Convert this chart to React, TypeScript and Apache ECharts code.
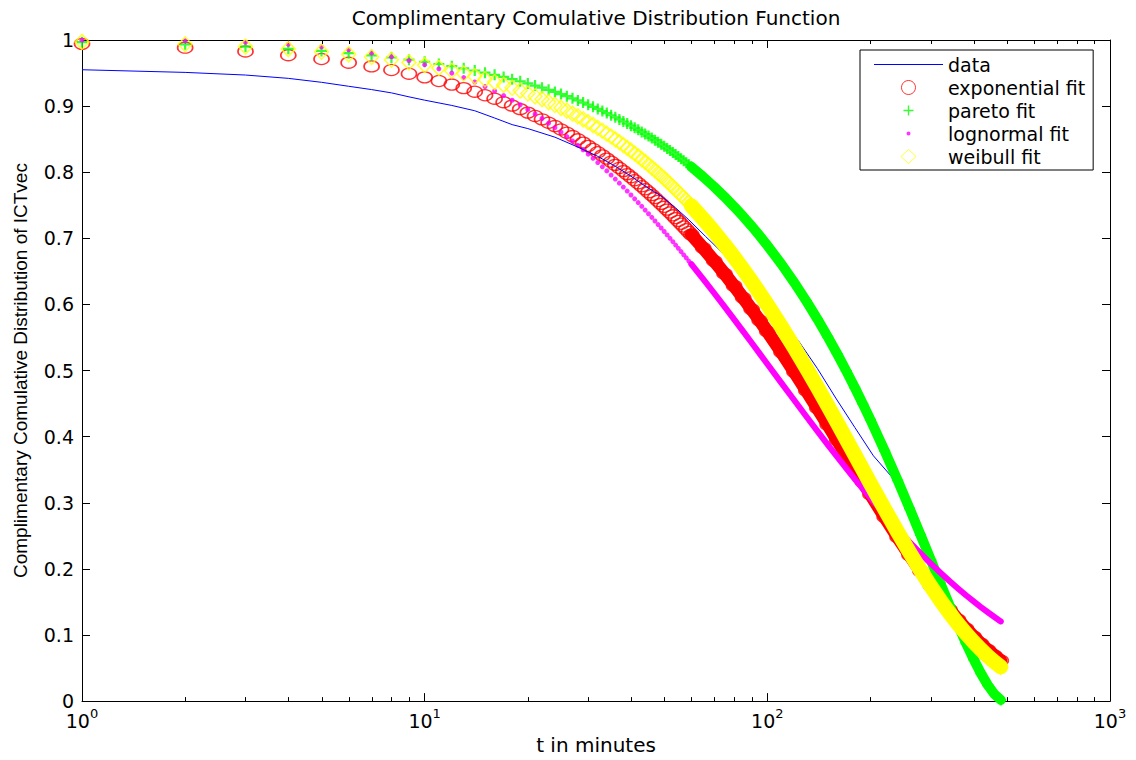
import React, { useEffect, useRef } from "react";
import * as echarts from "echarts";

// ---------- data ----------
const TITLE = "Complimentary Comulative Distribution Function";
const X_NAME = "t in minutes";
const Y_NAME = "Complimentary Comulative Distribution of ICTvec";

const X_TICK_EXP = ["0", "1", "2", "3"];
const Y_TICK_LABELS = ["0", "0.1", "0.2", "0.3", "0.4", "0.5", "0.6", "0.7", "0.8", "0.9", "1"];
const MINOR_TICKS = [2, 3, 4, 5, 6, 7, 8, 9, 20, 30, 40, 50, 60, 70, 80, 90, 200, 300, 400, 500, 600, 700, 800, 900];

const SERIES_NAMES = ["data", "exponential fit", "pareto fit", "lognormal fit", "weibull fit"];

// empirical CCDF (blue line)
const DATA_T = [1, 2, 3, 4, 5, 6, 7, 8, 9, 10, 12, 14, 16, 18, 20, 24, 28, 32, 36, 40, 44, 49, 54, 59, 66, 74, 85, 100, 112, 124, 140, 159, 180, 204, 230, 260, 300, 340, 380, 420, 450, 478];
const DATA_V = [0.955, 0.951, 0.947, 0.942, 0.936, 0.93, 0.925, 0.92, 0.914, 0.909, 0.901, 0.893, 0.882, 0.872, 0.866, 0.853, 0.838, 0.824, 0.809, 0.794, 0.779, 0.764, 0.746, 0.728, 0.703, 0.678, 0.643, 0.6, 0.572, 0.543, 0.503, 0.457, 0.414, 0.371, 0.34, 0.288, 0.215, 0.15, 0.095, 0.045, 0.022, 0.002];

// t values at which the fits are drawn
const FIT_T = [
  1, 2, 3, 4, 5, 6, 7, 8, 9, 10, 11, 12, 13, 14, 15, 16, 17, 18, 19, 20,
  21, 22, 23, 24, 25, 26, 27, 28, 29, 30, 31, 32, 33, 34, 35, 36, 37, 38, 39, 40,
  41, 42, 43, 44, 45, 46, 47, 48, 49, 50, 51, 52, 53, 54, 55, 56, 57, 58, 59, 60,
  65, 70, 75, 80, 85, 90, 95, 100,
  110, 120, 130, 140, 150, 160, 170, 180, 190, 200,
  220, 240, 260, 280, 300, 320, 340, 360, 380, 400, 420, 440, 460, 480,
];

const EXP_V = [
  0.9942, 0.9884, 0.9827, 0.977, 0.9713, 0.9657, 0.9601, 0.9546, 0.949, 0.9435, 0.938, 0.9326, 0.9272, 0.9218, 0.9164, 0.9112, 0.9059, 0.9007, 0.8954, 0.8902,
  0.8851, 0.88, 0.8748, 0.8698, 0.8647, 0.8597, 0.8547, 0.8498, 0.8448, 0.8399, 0.8351, 0.8302, 0.8254, 0.8206, 0.8159, 0.8111, 0.8064, 0.8017, 0.7971, 0.7925,
  0.7879, 0.7833, 0.7788, 0.7742, 0.7698, 0.7653, 0.7609, 0.7565, 0.7521, 0.7477, 0.7434, 0.7391, 0.7348, 0.7305, 0.7263, 0.7221, 0.7179, 0.7137, 0.7096, 0.7055,
  0.6853, 0.6656, 0.6465, 0.628, 0.61, 0.5926, 0.5756, 0.5591,
  0.5275, 0.4977, 0.4696, 0.4431, 0.4181, 0.3945, 0.3722, 0.3512, 0.3313, 0.3126,
  0.2783, 0.2478, 0.2206, 0.1964, 0.1748, 0.1556, 0.1385, 0.1233, 0.1098, 0.0977, 0.087, 0.0774, 0.069, 0.0614,
];

const PARETO_V = [
  0.9967, 0.9934, 0.99, 0.9867, 0.9834, 0.9801, 0.9768, 0.9735, 0.9702, 0.967, 0.9637, 0.9604, 0.9571, 0.9539, 0.9506, 0.9473, 0.9441, 0.9408, 0.9376, 0.9343,
  0.9311, 0.9279, 0.9246, 0.9214, 0.9182, 0.915, 0.9118, 0.9086, 0.9054, 0.9021, 0.8989, 0.8958, 0.8926, 0.8894, 0.8862, 0.8831, 0.8799, 0.8767, 0.8736, 0.8704,
  0.8672, 0.8641, 0.861, 0.8578, 0.8547, 0.8516, 0.8484, 0.8453, 0.8422, 0.8391, 0.836, 0.8329, 0.8298, 0.8267, 0.8236, 0.8205, 0.8174, 0.8144, 0.8113, 0.8082,
  0.793, 0.7778, 0.7628, 0.7479, 0.7331, 0.7184, 0.7038, 0.6893,
  0.6608, 0.6326, 0.605, 0.5779, 0.5512, 0.525, 0.4993, 0.4742, 0.4495, 0.4253,
  0.3785, 0.3339, 0.2915, 0.2513, 0.2135, 0.1781, 0.1452, 0.115, 0.0876, 0.0632, 0.0419, 0.0242, 0.0105, 0.0018,
];

const LOGN_V = [
  0.9998, 0.9987, 0.9966, 0.9935, 0.9896, 0.9851, 0.9801, 0.9746, 0.9688, 0.9627, 0.9564, 0.9499, 0.9432, 0.9365, 0.9296, 0.9228, 0.9159, 0.9089, 0.902, 0.895,
  0.8881, 0.8812, 0.8743, 0.8674, 0.8607, 0.8539, 0.8472, 0.8406, 0.834, 0.8274, 0.821, 0.8146, 0.8082, 0.802, 0.7957, 0.7896, 0.7835, 0.7775, 0.7715, 0.7656,
  0.7597, 0.754, 0.7484, 0.7427, 0.7372, 0.7317, 0.7262, 0.7208, 0.7156, 0.7103, 0.7051, 0.7, 0.6949, 0.6898, 0.6849, 0.68, 0.6751, 0.6704, 0.6656, 0.6609,
  0.6383, 0.6169, 0.5966, 0.5775, 0.5593, 0.542, 0.5256, 0.51,
  0.481, 0.4546, 0.4305, 0.4084, 0.388, 0.3693, 0.352, 0.3359, 0.321, 0.3071,
  0.282, 0.26, 0.2406, 0.2234, 0.2079, 0.1941, 0.1817, 0.1704, 0.1601, 0.1508, 0.1422, 0.1344, 0.1272, 0.1205,
];

const WEIB_V = [
  0.9971, 0.9936, 0.99, 0.9862, 0.9823, 0.9783, 0.9743, 0.9702, 0.9661, 0.962, 0.9578, 0.9535, 0.9493, 0.945, 0.9407, 0.9364, 0.9321, 0.9278, 0.9235, 0.9191,
  0.9148, 0.9105, 0.9061, 0.9017, 0.8974, 0.8931, 0.8887, 0.8844, 0.88, 0.8757, 0.8713, 0.867, 0.8627, 0.8583, 0.854, 0.8497, 0.8454, 0.8411, 0.8368, 0.8326,
  0.8283, 0.824, 0.8198, 0.8156, 0.8113, 0.8071, 0.8029, 0.7987, 0.7945, 0.7904, 0.7862, 0.7821, 0.7779, 0.7738, 0.7697, 0.7656, 0.7615, 0.7574, 0.7534, 0.7494,
  0.7293, 0.7097, 0.6904, 0.6715, 0.653, 0.6348, 0.617, 0.5997,
  0.5661, 0.5341, 0.5036, 0.4746, 0.447, 0.4208, 0.396, 0.3724, 0.3502, 0.3291,
  0.2904, 0.2559, 0.2251, 0.1979, 0.1737, 0.1524, 0.1335, 0.1168, 0.1022, 0.0893, 0.078, 0.068, 0.0593, 0.0517,
];

// ---------- styling ----------
const FONT = "DejaVu Sans";
const PLUS_PATH = "path://M4,0H6V4H10V6H6V10H4V6H0V4H4Z";
const PLUS_LEGEND = "path://M0,0L0.01,0M14,14L13.99,14M6.3,2H7.7V6.3H12V7.7H7.7V12H6.3V7.7H2V6.3H6.3Z";
const DOT_LEGEND = "path://M0,0L0.01,0M14,14L13.99,14M7,5A2,2,0,1,1,7,9A2,2,0,1,1,7,5Z";
const LINE_LEGEND = "path://M0,0H69V1.2H0Z";
const DIAMOND_LEGEND = "path://M6.5,0L13,6L6.5,12L0,6Z";
const BAND_START = 59; // index of t = 60

const pairs = (xs: number[], ys: number[]) => xs.map((x, i) => [x, ys[i]]);

export default function App() {
  const ref = useRef<HTMLDivElement>(null);

  useEffect(() => {
    if (!ref.current) return;
    const chart = echarts.init(ref.current, null, { renderer: "svg" });

    const band = (name: string, vals: number[], color: string, width: number) => ({
      type: "line",
      name,
      data: pairs(FIT_T, vals).slice(BAND_START),
      symbol: "none",
      clip: false,
      silent: true,
      lineStyle: { color, width, cap: "round", join: "round" },
    });

    const axisLineStyle = { color: "#000", width: 1 };

    const option: any = {
      animation: false,
      textStyle: { fontFamily: FONT },
      grid: { left: 82, right: 26, top: 40, bottom: 57, containLabel: false },
      graphic: [
        {
          type: "text",
          x: 596,
          y: 8,
          style: {
            text: TITLE,
            fontFamily: FONT,
            fontSize: 20,
            fill: "#000",
            textAlign: "center",
            textVerticalAlign: "top",
            align: "center",
            verticalAlign: "top",
          },
        },
      ],
      legend: {
        orient: "vertical",
        left: 860,
        top: 50,
        padding: [5, 8, 4, 14],
        itemWidth: 69,
        itemHeight: 14,
        itemGap: 4,
        backgroundColor: "#fff",
        borderColor: "#000",
        borderWidth: 1,
        borderRadius: 0,
        selectedMode: false,
        textStyle: { fontFamily: FONT, fontSize: 19, color: "#000", lineHeight: 19 },
        data: [
          { name: SERIES_NAMES[0], icon: LINE_LEGEND, itemStyle: { color: "#0000ff", borderWidth: 0 } },
          { name: SERIES_NAMES[1], icon: "circle", itemStyle: { color: "rgba(0,0,0,0)", borderColor: "#ff0000", borderWidth: 1 } },
          { name: SERIES_NAMES[2], icon: PLUS_LEGEND, itemStyle: { color: "#00ff00", borderWidth: 0 } },
          { name: SERIES_NAMES[3], icon: DOT_LEGEND, itemStyle: { color: "#ff00ff", borderWidth: 0 } },
          { name: SERIES_NAMES[4], icon: DIAMOND_LEGEND, itemStyle: { color: "rgba(0,0,0,0)", borderColor: "#ffff00", borderWidth: 1 } },
        ],
      },
      xAxis: [
        {
          type: "log",
          logBase: 10,
          min: 1,
          max: 1000,
          position: "bottom",
          axisLine: { show: true, onZero: false, lineStyle: axisLineStyle },
          axisTick: { show: true, inside: true, length: 8, lineStyle: axisLineStyle },
          minorTick: { show: false },
          splitLine: { show: false },
          axisLabel: {
            margin: 6,
            formatter: (v: number) => `{b|10}{s|${X_TICK_EXP[Math.round(Math.log10(v))]}}`,
            rich: {
              b: { fontFamily: FONT, fontSize: 19, color: "#000", verticalAlign: "bottom", lineHeight: 22 },
              s: { fontFamily: FONT, fontSize: 13, color: "#000", verticalAlign: "bottom", padding: [0, 0, 10, 0] },
            },
          },
          name: X_NAME,
          nameLocation: "middle",
          nameGap: 32,
          nameTextStyle: { fontFamily: FONT, fontSize: 20, color: "#000" },
        },
        {
          type: "log",
          logBase: 10,
          min: 1,
          max: 1000,
          position: "top",
          axisLine: { show: true, onZero: false, lineStyle: axisLineStyle },
          axisTick: { show: true, inside: true, length: 8, lineStyle: axisLineStyle },
          axisLabel: { show: false },
          splitLine: { show: false },
        },
      ],
      yAxis: [
        {
          type: "value",
          min: 0,
          max: 1,
          interval: 0.1,
          position: "left",
          axisLine: { show: true, onZero: false, lineStyle: axisLineStyle },
          axisTick: { show: true, inside: true, length: 8, lineStyle: axisLineStyle },
          splitLine: { show: false },
          axisLabel: {
            margin: 8,
            fontFamily: FONT,
            fontSize: 19,
            color: "#000",
            formatter: (v: number) => Y_TICK_LABELS[Math.round(v * 10)],
          },
          name: Y_NAME,
          nameLocation: "middle",
          nameGap: 52,
          nameTextStyle: { fontFamily: "Liberation Sans", fontSize: 19, color: "#000" },
        },
        {
          type: "value",
          min: 0,
          max: 1,
          interval: 0.1,
          position: "right",
          axisLine: { show: true, onZero: false, lineStyle: axisLineStyle },
          axisTick: { show: true, inside: true, length: 8, lineStyle: axisLineStyle },
          axisLabel: { show: false },
          splitLine: { show: false },
        },
      ],
      series: [
        {
          type: "line",
          name: SERIES_NAMES[0],
          data: pairs(DATA_T, DATA_V),
          symbol: "none",
          clip: false,
          silent: true,
          lineStyle: { color: "#0000ff", width: 1 },
        },
        band("exp band", EXP_V, "#ff0000", 13),
        {
          type: "scatter",
          name: SERIES_NAMES[1],
          data: pairs(FIT_T, EXP_V),
          symbol: "circle",
          symbolSize: [15, 11],
          clip: false,
          silent: true,
          itemStyle: { color: "rgba(0,0,0,0)", borderColor: "#ff0000", borderWidth: 1.5 },
        },
        band("pareto band", PARETO_V, "#00ff00", 10),
        {
          type: "scatter",
          name: SERIES_NAMES[2],
          data: pairs(FIT_T, PARETO_V),
          symbol: PLUS_PATH,
          symbolSize: 11,
          clip: false,
          silent: true,
          itemStyle: { color: "#00ff00" },
        },
        band("lognormal band", LOGN_V, "#ff00ff", 6),
        {
          type: "scatter",
          name: SERIES_NAMES[3],
          data: pairs(FIT_T, LOGN_V),
          symbol: "circle",
          symbolSize: 5,
          clip: false,
          silent: true,
          itemStyle: { color: "#ff00ff" },
        },
        band("weibull band", WEIB_V, "#ffff00", 15),
        {
          type: "scatter",
          name: SERIES_NAMES[4],
          data: pairs(FIT_T, WEIB_V),
          symbol: "diamond",
          symbolSize: [14, 15],
          clip: false,
          silent: true,
          itemStyle: { color: "rgba(0,0,0,0)", borderColor: "#ffff00", borderWidth: 1.5 },
        },
        {
          type: "custom",
          name: "minor ticks",
          data: MINOR_TICKS.map((t) => [t, 0]),
          clip: false,
          silent: true,
          renderItem: (params: any, api: any) => {
            const x = Math.round(api.coord([api.value(0), 0])[0]) + 0.5;
            const cs = params.coordSys;
            const yb = cs.y + cs.height;
            const yt = cs.y;
            return {
              type: "group",
              children: [
                { type: "line", shape: { x1: x, y1: yb, x2: x, y2: yb - 4 }, style: { stroke: "#000", lineWidth: 1 } },
                { type: "line", shape: { x1: x, y1: yt, x2: x, y2: yt + 4 }, style: { stroke: "#000", lineWidth: 1 } },
              ],
            };
          },
        },
      ],
    };

    chart.setOption(option);
    return () => chart.dispose();
  }, []);

  return (
    <div
      ref={ref}
      style={{ position: "absolute", left: 0, top: 0, width: 1136, height: 760, background: "#fff" }}
    />
  );
}
